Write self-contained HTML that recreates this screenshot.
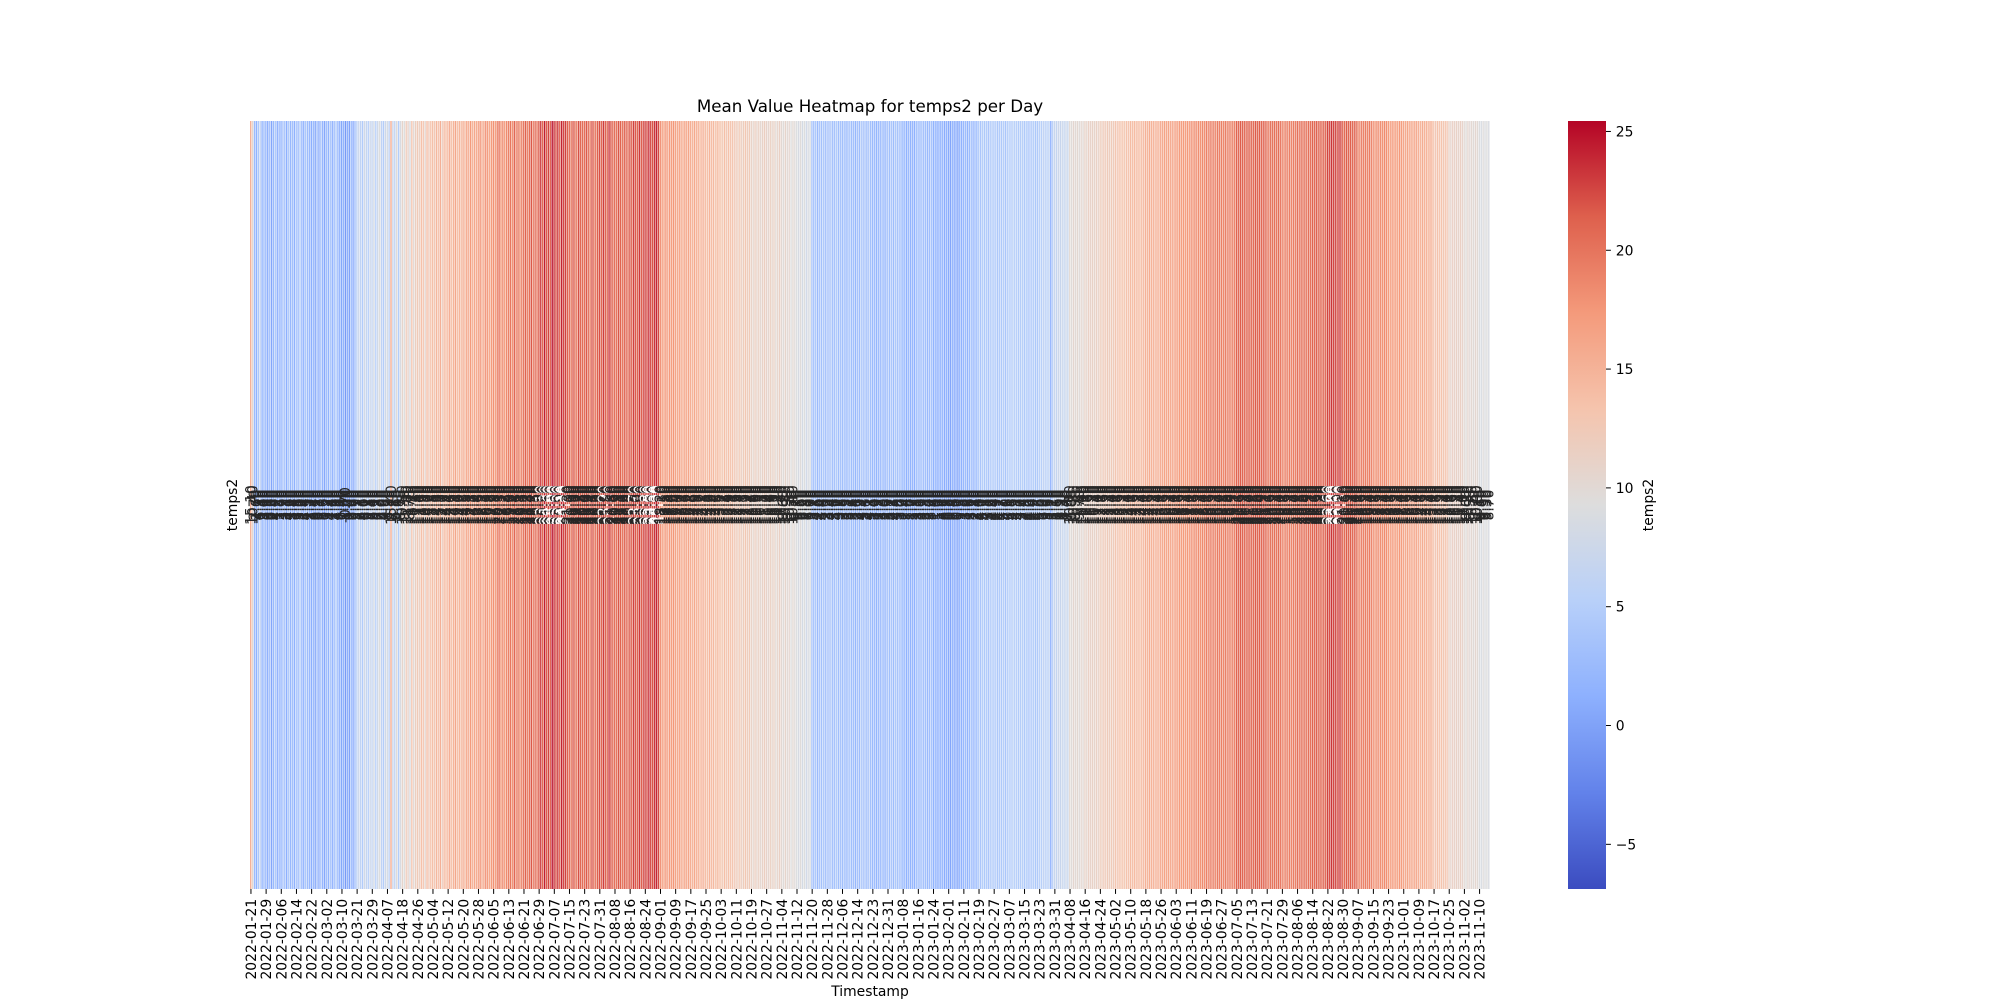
<!DOCTYPE html>
<html><head><meta charset="utf-8">
<style>
html,body{margin:0;padding:0;background:#fff;}
svg{display:block;font-family:"DejaVu Sans","Liberation Sans",sans-serif;}
</style></head>
<body>
<svg id="chart" width="2000" height="1000" viewBox="0 0 2000 1000" xmlns="http://www.w3.org/2000/svg">
<text x="870" y="112" font-size="16.7" text-anchor="middle">Mean Value Heatmap for temps2 per Day</text>
<g id="cells"></g>
<g id="annots"></g>
<g id="xticks"></g>
<text x="870" y="996" font-size="13.9" text-anchor="middle">Timestamp</text>
<text transform="translate(237,505) rotate(-90)" font-size="13.9" text-anchor="middle">temps2</text>
<g id="cbar"></g>
<text transform="translate(1653,505) rotate(-90)" font-size="13.9" text-anchor="middle">temps2</text>
</svg>
<script>
const values = [
15.1,10.4,2.7,1.6,4.1,6.3,1.4,3.0,
2.1,0.9,3.6,0.3,2.4,4.7,1.2,2.5,
1.7,3.9,3.3,1.1,4.6,2.2,3.4,1.5,
3.8,2.6,5.1,2.0,1.4,4.3,2.9,2.3,
1.1,2.4,0.2,3.1,0.8,3.7,1.6,0.5,
3.2,1.7,4.4,1.3,2.6,4.8,2.1,1.0,
0.4,1.8,-0.7,1.2,0.0,2.3,0.7,2.9,
5.5,7.2,6.1,4.6,8.0,6.7,5.3,7.4,
6.4,8.1,5.2,7.8,9.3,6.0,4.9,7.6,
8.2,5.8,15.4,7.1,6.3,9.6,4.8,8.7,
10.8,9.3,12.1,11.0,8.7,13.2,10.1,11.6,
12.4,11.1,13.6,12.9,10.7,14.0,12.2,13.3,
13.8,12.5,14.6,13.1,15.2,12.0,14.3,13.7,
14.4,15.8,13.2,14.9,16.1,13.6,15.0,14.2,
15.6,14.3,16.8,15.1,17.3,14.7,16.0,15.4,
16.5,17.9,15.3,16.2,18.1,16.9,15.8,17.2,
17.9,16.8,19.1,20.3,17.5,18.7,17.2,18.4,
19.0,19.8,17.7,21.4,18.6,20.1,18.3,19.3,
19.9,21.2,18.8,20.4,21.7,19.3,20.6,19.5,
21.8,23.1,20.7,24.3,21.5,22.6,21.1,25.0,
23.6,22.0,23.3,20.9,24.1,22.4,22.8,21.3,
21.0,20.1,21.9,20.6,19.7,22.2,20.8,20.4,
20.3,21.6,20.9,19.4,22.1,20.5,20.0,21.2,
22.1,20.8,22.9,21.5,21.1,23.4,21.8,20.6,
20.7,19.9,21.8,21.1,19.6,21.5,20.9,20.2,
21.9,21.3,22.7,21.6,21.0,23.1,21.5,22.3,
22.8,22.1,23.6,22.5,21.9,23.3,23.9,22.4,
18.2,17.1,16.5,17.8,16.2,17.4,16.9,17.6,
16.4,15.7,17.0,16.1,15.3,16.8,15.9,16.2,
15.3,14.6,15.9,14.9,15.6,14.2,15.1,14.8,
14.1,13.6,14.8,13.9,14.4,13.2,14.6,13.7,
13.2,12.7,13.8,12.4,13.5,12.9,13.1,12.6,
12.3,11.8,12.7,11.5,12.1,12.9,11.7,12.4,
11.2,10.6,11.8,10.9,11.5,10.3,11.1,11.7,
11.0,10.4,11.6,10.8,11.3,10.1,10.7,11.4,
10.2,9.6,10.8,9.9,10.5,9.3,10.1,9.7,
9.1,8.5,9.6,8.2,9.3,7.8,8.7,9.0,
3.7,3.1,4.3,2.6,4.0,3.4,4.5,2.9,
3.9,3.3,4.4,2.8,3.6,4.7,3.1,3.8,
2.8,3.5,2.3,3.2,3.7,2.6,3.4,2.1,
3.6,2.9,4.2,3.4,3.8,2.7,4.1,3.3,
2.4,3.0,1.9,2.7,2.2,3.3,2.0,2.6,
3.7,3.2,4.1,2.8,4.4,3.3,3.6,3.0,
1.9,2.4,1.3,2.6,1.7,2.2,1.5,2.8,
3.1,2.6,3.5,2.9,3.3,2.4,3.0,3.7,
1.4,1.9,1.0,1.6,1.2,2.1,0.9,1.8,
0.8,0.3,1.4,0.6,1.1,0.0,1.3,1.5,
2.3,3.0,1.8,2.6,3.2,2.1,2.8,2.4,
4.6,4.0,5.1,4.3,4.8,3.7,4.5,4.9,
4.4,4.9,4.1,4.7,4.3,5.1,4.0,4.6,
5.1,4.6,5.5,4.9,5.3,4.7,5.0,5.4,
4.3,4.8,4.0,4.6,4.4,4.9,4.2,4.5,
5.6,5.2,6.0,5.5,5.3,5.9,1.1,5.7,
7.1,6.6,7.5,6.9,7.3,6.7,7.4,7.0,
10.1,9.6,10.5,9.9,10.3,9.7,10.4,10.0,
11.1,10.6,11.5,10.9,11.3,10.7,11.4,11.0,
12.1,11.6,12.5,11.9,12.3,11.7,12.4,12.0,
13.1,12.6,13.5,12.9,13.3,12.7,13.4,13.0,
14.1,13.6,14.5,13.9,14.3,13.7,14.4,14.0,
15.1,14.6,15.5,14.9,15.3,14.7,15.4,15.0,
16.1,15.6,16.5,15.9,16.3,15.7,16.4,16.0,
17.1,16.6,17.5,16.9,17.3,16.7,17.4,17.0,
18.1,17.6,18.5,17.9,18.3,17.7,18.4,18.0,
19.1,18.6,19.5,18.9,19.3,18.7,19.4,19.0,
19.2,18.5,19.6,18.8,19.4,18.9,19.3,19.1,
21.1,20.6,21.5,20.9,21.3,20.7,21.4,21.0,
21.2,20.5,21.6,20.8,21.4,20.9,21.3,21.1,
20.1,19.6,20.5,19.9,20.3,19.7,20.4,20.0,
19.1,18.6,19.5,18.9,19.3,18.7,19.4,19.0,
20.2,19.5,20.6,19.8,20.4,19.9,20.3,20.1,
21.1,20.6,21.5,20.9,21.3,20.7,21.4,21.0,
22.6,22.1,23.3,22.4,22.8,22.0,23.1,22.5,
21.1,20.6,21.5,20.9,21.3,20.7,21.4,21.0,
19.1,18.6,19.5,18.9,19.3,18.7,19.4,19.0,
18.1,17.6,18.5,17.9,18.3,17.7,18.4,18.0,
17.1,16.6,17.5,16.9,17.3,16.7,17.4,17.0,
16.1,15.6,16.5,15.9,16.3,15.7,16.4,16.0,
15.1,14.6,15.5,14.9,15.3,14.7,15.4,15.0,
13.1,12.6,13.5,12.9,13.3,12.7,13.4,13.0,
11.1,10.6,11.5,10.9,11.3,10.7,11.4,11.0,
10.1,9.6,10.5,9.9,10.3,9.7,10.4,10.0,
9.1,8.6,9.5,8.9,9.3,8.7
];
const tickLabels = ["2022-01-21","2022-01-29","2022-02-06","2022-02-14","2022-02-22","2022-03-02","2022-03-10","2022-03-21","2022-03-29","2022-04-07","2022-04-18","2022-04-26","2022-05-04","2022-05-12","2022-05-20","2022-05-28","2022-06-05","2022-06-13","2022-06-21","2022-06-29","2022-07-07","2022-07-15","2022-07-23","2022-07-31","2022-08-08","2022-08-16","2022-08-24","2022-09-01","2022-09-09","2022-09-17","2022-09-25","2022-10-03","2022-10-11","2022-10-19","2022-10-27","2022-11-04","2022-11-12","2022-11-20","2022-11-28","2022-12-06","2022-12-14","2022-12-23","2022-12-31","2023-01-08","2023-01-16","2023-01-24","2023-02-01","2023-02-11","2023-02-19","2023-02-27","2023-03-07","2023-03-15","2023-03-23","2023-03-31","2023-04-08","2023-04-16","2023-04-24","2023-05-02","2023-05-10","2023-05-18","2023-05-26","2023-06-03","2023-06-11","2023-06-19","2023-06-27","2023-07-05","2023-07-13","2023-07-21","2023-07-29","2023-08-06","2023-08-14","2023-08-22","2023-08-30","2023-09-07","2023-09-15","2023-09-23","2023-10-01","2023-10-09","2023-10-17","2023-10-25","2023-11-02","2023-11-10"];
const tickStep = 8;
const cbarTicks = [-5,0,5,10,15,20,25];
const vmin = -6.88, vmax = 25.44;

const NS = "http://www.w3.org/2000/svg";
const X0 = 250, X1 = 1490, Y0 = 121, Y1 = 889;
const n = values.length;
const cw = (X1 - X0) / n;
function xPos(i){ return X0 + i * cw; }
const stops = [[0,[59,76,192]],[0.125,[98,130,234]],[0.25,[141,176,254]],[0.375,[184,208,249]],[0.5,[221,221,221]],[0.625,[245,196,173]],[0.75,[244,154,123]],[0.875,[222,96,77]],[1,[180,4,38]]];
function cmapRGB(v){
  let t = Math.max(0, Math.min(1, (v - vmin) / (vmax - vmin)));
  for (let k = 0; k < stops.length - 1; k++){
    const a = stops[k], b = stops[k+1];
    if (t <= b[0]){
      const f = (t - a[0]) / (b[0] - a[0]);
      return a[1].map((c, j) => Math.round(c + (b[1][j] - c) * f));
    }
  }
  return stops[stops.length-1][1];
}
function rgb(c){ return "rgb(" + c.join(",") + ")"; }

const cells = document.getElementById("cells");
const annots = document.getElementById("annots");
values.forEach((v, i) => {
  const c = cmapRGB(v);
  const r = document.createElementNS(NS, "rect");
  r.setAttribute("x", xPos(i));
  r.setAttribute("y", Y0);
  r.setAttribute("width", cw - 0.5);
  r.setAttribute("height", Y1 - Y0);
  r.setAttribute("fill", rgb(c));
  
  
  cells.appendChild(r);
  const lum = (0.2126*c[0] + 0.7152*c[1] + 0.0722*c[2]) / 255;
  const t = document.createElementNS(NS, "text");
  const cx = xPos(i) + cw / 2;
  t.setAttribute("transform", "translate(" + (cx + 4.5) + "," + ((Y0 + Y1) / 2) + ") rotate(-90)");
  t.setAttribute("font-size", "13.9");
  t.setAttribute("text-anchor", "middle");
  t.setAttribute("fill", lum < 0.408 ? "#ffffff" : "#262626");
  t.textContent = v.toFixed(2);
  
  
  annots.appendChild(t);
});

const xt = document.getElementById("xticks");
tickLabels.forEach((lab, k) => {
  const cx = xPos(k * tickStep) + cw / 2;
  const l = document.createElementNS(NS, "line");
  l.setAttribute("x1", cx); l.setAttribute("x2", cx);
  l.setAttribute("y1", Y1); l.setAttribute("y2", Y1 + 4.9);
  l.setAttribute("stroke", "#000"); l.setAttribute("stroke-width", "1");
  
  
  xt.appendChild(l);
  const t = document.createElementNS(NS, "text");
  t.setAttribute("transform", "translate(" + (cx + 5) + "," + (Y1 + 9.8) + ") rotate(-90)");
  t.setAttribute("font-size", "13.9");
  t.setAttribute("text-anchor", "end");
  t.textContent = lab;
  
  
  xt.appendChild(t);
});

const cb = document.getElementById("cbar");
const CX0 = 1568, CX1 = 1606;
function cbY(v){ return Y1 - (v - vmin) / (vmax - vmin) * (Y1 - Y0); }
const defs = document.createElementNS(NS, "defs");
const grad = document.createElementNS(NS, "linearGradient");
grad.setAttribute("id", "cmapgrad");
grad.setAttribute("x1", "0"); grad.setAttribute("y1", "1");
grad.setAttribute("x2", "0"); grad.setAttribute("y2", "0");
stops.forEach(s => {
  const st = document.createElementNS(NS, "stop");
  st.setAttribute("offset", s[0]);
  st.setAttribute("stop-color", rgb(s[1]));
  grad.appendChild(st);
});
defs.appendChild(grad);
cb.appendChild(defs);
const cbr = document.createElementNS(NS, "rect");
cbr.setAttribute("x", CX0); cbr.setAttribute("y", Y0);
cbr.setAttribute("width", CX1 - CX0); cbr.setAttribute("height", Y1 - Y0);
cbr.setAttribute("fill", "url(#cmapgrad)");


cb.appendChild(cbr);
cbarTicks.forEach(v => {
  const y = cbY(v);
  const l = document.createElementNS(NS, "line");
  l.setAttribute("x1", CX1); l.setAttribute("x2", CX1 + 4.9);
  l.setAttribute("y1", y); l.setAttribute("y2", y);
  l.setAttribute("stroke", "#000"); l.setAttribute("stroke-width", "1");
  
  
  cb.appendChild(l);
  const t = document.createElementNS(NS, "text");
  t.setAttribute("x", CX1 + 9.8); t.setAttribute("y", y + 5);
  t.setAttribute("font-size", "13.9");
  t.textContent = v < 0 ? "\u2212" + Math.abs(v) : String(v);
  
  
  cb.appendChild(t);
});
</script>
</body></html>
